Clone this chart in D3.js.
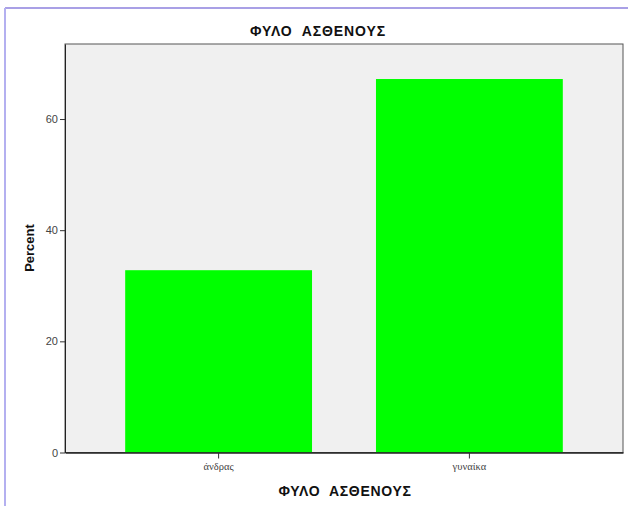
<!DOCTYPE html>
<html><head><meta charset="utf-8">
<script src="https://cdn.jsdelivr.net/npm/d3@7"></script>
<style>body{margin:0;background:#fff}svg{display:block}</style>
</head><body>
<script>
const categories = ["άνδρας", "γυναίκα"];
const percents = [32.8, 67.2];
const yTicks = [0, 20, 40, 60];
const chartTitle = "ΦΥΛΟ  ΑΣΘΕΝΟΥΣ";
const xTitle = "ΦΥΛΟ  ΑΣΘΕΝΟΥΣ";
const yTitle = "Percent";

const W = 628, H = 509;
const m = {left: 65, top: 44, right: 623, bottom: 452.5};
const svg = d3.select("body").append("svg").attr("width", W).attr("height", H);

// outer frame (lavender)
svg.append("line").attr("x1",5).attr("x2",W).attr("y1",8).attr("y2",8).attr("stroke","#a9a0e6").attr("stroke-width",2);
svg.append("line").attr("x1",5).attr("x2",5).attr("y1",8).attr("y2",506).attr("stroke","#b4b0f0").attr("stroke-width",2);

const x = d3.scaleBand().domain(categories).range([m.left, m.right]).paddingInner(0.255).paddingOuter(0.24);
const y = d3.scaleLinear().domain([0, 73.5]).range([m.bottom, m.top]);

svg.append("rect").attr("x", m.left).attr("y", m.top).attr("width", m.right-m.left).attr("height", m.bottom-m.top)
  .attr("fill","#f0f0f0").attr("stroke","#555").attr("stroke-width",1);

svg.selectAll(".bar").data(percents).join("rect")
  .attr("x", (d,i)=>x(categories[i])).attr("width", x.bandwidth())
  .attr("y", d=>y(d)).attr("height", d=>y(0)-y(d)).attr("fill","#00ff00");

const ya = svg.append("g").attr("transform",`translate(${m.left},0)`)
  .call(d3.axisLeft(y).tickValues(yTicks).tickSize(5).tickSizeOuter(0).tickFormat(d3.format("d")));
ya.select(".domain").attr("stroke","#222");
ya.selectAll(".tick line").attr("stroke","#333");
ya.selectAll("text").attr("font-family","Arial, 'Liberation Sans', sans-serif").attr("font-size",11).attr("fill","#444").attr("dx","1");

const xa = svg.append("g").attr("transform",`translate(0,${m.bottom})`)
  .call(d3.axisBottom(x).tickSize(6).tickSizeOuter(0).tickPadding(4));
xa.select(".domain").attr("stroke","#222").attr("stroke-width",1.3);
xa.selectAll(".tick line").attr("stroke","#333");
xa.selectAll("text").attr("font-family","'Liberation Serif', 'DejaVu Serif', serif").attr("font-size",10.5).attr("fill","#444");

const sans = "Arial, 'Liberation Sans', sans-serif";
svg.append("text").attr("x", 318).attr("y", 36).attr("text-anchor","middle").style("white-space","pre")
  .attr("letter-spacing", 0.9)
  .attr("font-family",sans).attr("font-weight","bold").attr("font-size",14).attr("fill","#111").text(chartTitle);
svg.append("text").attr("x", 345).attr("y", 496).attr("text-anchor","middle").style("white-space","pre")
  .attr("letter-spacing", 0.7)
  .attr("font-family",sans).attr("font-weight","bold").attr("font-size",14).attr("fill","#111").text(xTitle);
svg.append("text").attr("transform","translate(34,248) rotate(-90)").attr("text-anchor","middle")
  .attr("font-family",sans).attr("font-weight","bold").attr("font-size",13).attr("fill","#111").text(yTitle);
</script>
</body></html>
